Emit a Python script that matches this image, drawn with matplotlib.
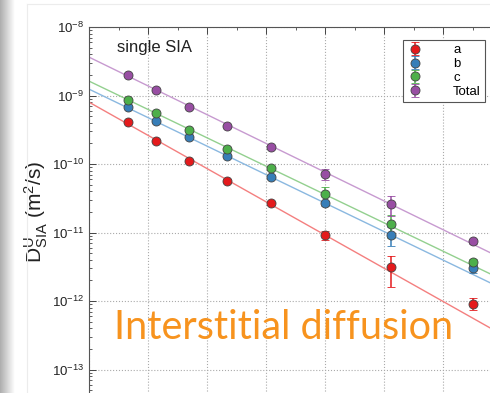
import numpy as np
import matplotlib
matplotlib.use("Agg")
import matplotlib.pyplot as plt
from matplotlib.lines import Line2D
from matplotlib.ticker import MultipleLocator, LogLocator, NullFormatter, FixedLocator

plt.rcParams['font.family'] = ['Liberation Sans', 'DejaVu Sans']
plt.rcParams['mathtext.default'] = 'regular'

# x axis: 10^4 / T  (T = 1500 ... 800 K)
inv_T = [6.667, 7.143, 7.692, 8.333, 9.091, 10.0, 11.111, 12.5]

# diffusion coefficients (m^2/s) and errors
D_a = [4.1e-10, 2.18e-10, 1.12e-10, 5.7e-11, 2.66e-11, 9.1e-12, 3.1e-12, 9.1e-13]
D_b = [6.8e-10, 4.25e-10, 2.49e-10, 1.32e-10, 6.5e-11, 2.66e-11, 9.1e-12, 3.0e-12]
D_c = [8.7e-10, 5.5e-10, 3.14e-10, 1.67e-10, 8.6e-11, 3.7e-11, 1.32e-11, 3.7e-12]
D_tot = [1.97e-9, 1.19e-9, 6.8e-10, 3.59e-10, 1.78e-10, 7.2e-11, 2.57e-11, 7.5e-12]

err_a = [1e-11, 6e-12, 4e-12, 3e-12, 1.5e-12, 1.3e-12, 1.5e-12, 1.8e-13]
err_b = [1.5e-11, 1e-11, 8e-12, 5e-12, 3e-12, 2e-12, 2.8e-12, 4e-13]
err_c = [2e-11, 1.2e-11, 8e-12, 6e-12, 4e-12, 9e-12, 5e-12, 4e-13]
err_tot = [4e-11, 2.5e-11, 1.5e-11, 1e-11, 8e-12, 1.3e-11, 8e-12, 6e-13]

# Arrhenius fit parameters: D = D0 exp(-Ea/kT)
D0_fit = [6.49e-7, 3.87e-7, 4.93e-7, 1.2e-6]
Ea_fit = [0.962, 0.825, 0.821, 0.833]

labels = ['a', 'b', 'c', 'Total']
colors = ['#e41a1c', '#377eb8', '#4daf4a', '#984ea3']
line_colors = ['#f47f7f', '#8ab8e0', '#93d08f', '#c79ad0']
y_major = [1e-13, 1e-12, 1e-11, 1e-10, 1e-9, 1e-8]

kB = 8.617e-5

fig = plt.figure(figsize=[4.9, 3.93], dpi=100)

# slide shadow on the left
bg = fig.add_axes([0, 0, 14/490, 1])
grad = np.linspace(0.68, 1.0, 64).reshape(1, -1)
bg.imshow(grad, aspect='auto', cmap='gray', vmin=0, vmax=1, extent=[0, 1, 0, 1])
bg.axis('off')
fig.add_artist(Line2D([27/490, 27/490], [0, 1-4/393], color='#ececec', lw=0.8))
fig.add_artist(Line2D([27/490, 1], [1-4/393, 1-4/393], color='#ececec', lw=0.8))

ax = fig.add_axes([89/490, 1-438/393, 413/490, 411/393])

xx = np.linspace(6, 13, 50)
for D0, Ea, lc in zip(D0_fit, Ea_fit, line_colors):
    T = 1e4/xx
    ax.plot(xx, D0*np.exp(-Ea/(kB*T)), '-', color=lc, lw=1, zorder=2)

series = [D_a, D_b, D_c, D_tot]
errs = [err_a, err_b, err_c, err_tot]
for D, e, c, lab in zip(series, errs, colors, labels):
    ax.errorbar(inv_T, D, yerr=e, fmt='o', color=c, ecolor=c, ms=6.5,
                mec='#444444', mew=0.6, elinewidth=1.1, capsize=3,
                capthick=1.1, label=lab, zorder=3)

ax.set_yscale('log')
ax.set_xlim(6, 13)
ax.set_ylim(1e-14, 1e-8)
ax.xaxis.set_major_locator(MultipleLocator(1))
ax.xaxis.set_minor_locator(MultipleLocator(0.5))
ax.yaxis.set_major_locator(FixedLocator(y_major))
ax.yaxis.set_minor_locator(LogLocator(base=10, subs=np.arange(2, 10), numticks=20))
ax.yaxis.set_minor_formatter(NullFormatter())
ax.tick_params(which='both', direction='in', top=True, right=True,
               colors='#444444', labelcolor='#222222', labelsize=9.5)
ax.tick_params(axis='x', labelbottom=False)
ax.tick_params(which='major', length=5, width=0.7)
ax.tick_params(which='minor', length=2.5, width=0.6)
for sp in ax.spines.values():
    sp.set_color('#555555')
    sp.set_linewidth(0.8)
ax.grid(True, which='major', linestyle=':', color='#aaaaaa', linewidth=0.8)

ax.set_ylabel(r'$D^{U}_{SIA}$ (m$^{2}$/s)', fontsize=15, color='#222222')
ax.yaxis.set_label_coords(-0.094, 0.551)

ax.text(0.068, 0.949, 'single SIA', transform=ax.transAxes, fontsize=12,
        ha='left', va='center', color='#222222')

leg = ax.legend(loc='upper left', bbox_to_anchor=(0.760, 0.968), borderaxespad=0,
                fontsize=9.5, fancybox=False, edgecolor='#555555',
                handlelength=1.2, handletextpad=2.3, labelspacing=0.12,
                borderpad=0.3, framealpha=1)
leg.get_frame().set_linewidth(0.8)

fig.text(114/490, 1-339/393, 'Interstitial diffusion', fontsize=28.5,
         family=['Lato', 'DejaVu Sans'], color='#f7931e', ha='left', va='baseline')

fig.savefig('out.png', dpi=100)
